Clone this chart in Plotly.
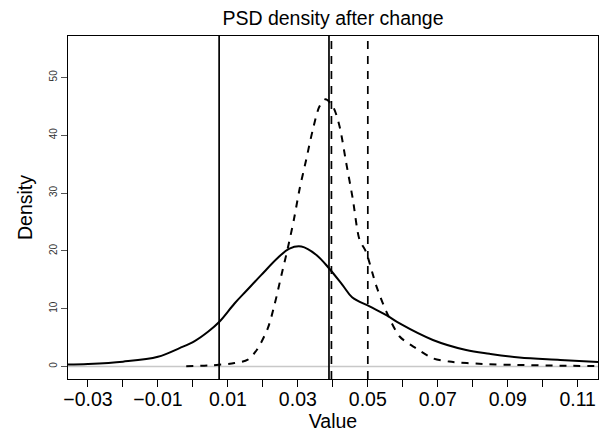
import plotly.graph_objects as go

# Solid density curve
solid_x = [-0.0357, -0.03, -0.02, -0.01, -0.0038, 0.0005, 0.0045, 0.0075, 0.0119,
           0.0153, 0.0195, 0.0243, 0.0276, 0.031, 0.0353, 0.0389, 0.0429, 0.0455,
           0.0505, 0.0553, 0.0591, 0.0686, 0.0781, 0.0848, 0.0933, 0.105, 0.1158]
solid_y = [0.35, 0.45, 0.85, 1.7, 3.2, 4.4, 6.1, 7.7, 10.9,
           13.1, 15.8, 18.8, 20.4, 20.75, 19.3, 17.0, 14.0, 12.0,
           10.4, 8.9, 7.45, 4.6, 2.86, 2.2, 1.55, 1.15, 0.8]

# Dashed density curve
dash_x = [-0.0019, 0.005, 0.0119, 0.0157, 0.0183, 0.0214, 0.0233, 0.0253, 0.0271, 0.0289,
          0.0305, 0.0324, 0.0343, 0.0362, 0.0379, 0.04, 0.0419, 0.0438, 0.0457, 0.0476,
          0.0495, 0.0524, 0.0553, 0.0591, 0.0638, 0.0686, 0.0733, 0.0828, 0.0924, 0.105, 0.1158]
dash_y = [0.05, 0.2, 0.6, 1.2, 2.9, 6.6, 10.6, 15.8, 20.4, 25.5,
          30.7, 35.8, 41.0, 45.0, 46.2, 45.0, 41.6, 35.3, 29.0, 22.0,
          19.8, 14.0, 9.5, 5.2, 3.15, 1.43, 0.86, 0.45, 0.28, 0.15, 0.1]

# Vertical reference lines
solid_vlines = [0.0075, 0.0389]
dash_vlines = [0.0396, 0.05]
zero_level = 0

# Axis ticks
x_tickvals = [-0.03, -0.02, -0.01, 0.0, 0.01, 0.02, 0.03, 0.04, 0.05, 0.06, 0.07, 0.08, 0.09, 0.10, 0.11]
x_ticktext = ["\u22120.03", "", "\u22120.01", "", "0.01", "", "0.03", "", "0.05", "", "0.07", "", "0.09", "", "0.11"]
y_tickvals = [0, 10, 20, 30, 40, 50]
y_ticktext = ["0", "10", "20", "30", "40", "50"]

x_range = [-0.0357, 0.1158]
y_range = [-2.15, 57.15]

FONT = "Liberation Sans, Arial, Helvetica, sans-serif"

fig = go.Figure()

fig.add_hline(y=zero_level, line=dict(color="#c8c8c8", width=1.5), layer="below")

fig.add_trace(go.Scatter(x=solid_x, y=solid_y, mode="lines",
                         line=dict(color="black", width=2, shape="spline", smoothing=1.0),
                         showlegend=False, hoverinfo="skip"))
fig.add_trace(go.Scatter(x=dash_x, y=dash_y, mode="lines",
                         line=dict(color="black", width=2, dash="7px,7px", shape="spline", smoothing=0.8),
                         showlegend=False, hoverinfo="skip"))

for v in solid_vlines:
    fig.add_vline(x=v, line=dict(color="black", width=1.7))
for v in dash_vlines:
    fig.add_vline(x=v, line=dict(color="black", width=1.7, dash="8px,7px"))

fig.update_layout(
    width=603, height=432,
    margin=dict(l=68, r=4, t=36, b=51),
    paper_bgcolor="white", plot_bgcolor="white",
    font=dict(family=FONT, color="black", size=19),
    title=dict(text="PSD density after change", x=0.5, xref="paper",
               y=1 - 18 / 432, yref="container", yanchor="middle", xanchor="center",
               font=dict(size=19.5, family=FONT, color="black")),
    showlegend=False,
)

fig.update_xaxes(
    range=x_range, tickvals=x_tickvals, ticktext=x_ticktext,
    showgrid=False, zeroline=False, showline=True, mirror=True,
    linecolor="black", linewidth=1,
    ticks="outside", ticklen=7, tickcolor="black", tickwidth=1,
    ticklabelstandoff=-4,
    tickfont=dict(size=19.5, family=FONT, color="black"),
    title=dict(text="Value", font=dict(size=19.5, family=FONT, color="black"), standoff=4),
)
fig.update_yaxes(
    range=y_range, tickvals=y_tickvals, ticktext=y_ticktext, tickangle=-90,
    showgrid=False, zeroline=False, showline=True, mirror=True,
    linecolor="black", linewidth=1,
    ticks="outside", ticklen=6, tickcolor="#555555", tickwidth=1,
    tickfont=dict(size=10, family=FONT, color="#333333"),
    title=dict(text="Density", font=dict(size=19.5, family=FONT, color="black"), standoff=10),
)

fig.write_html("out.html")
